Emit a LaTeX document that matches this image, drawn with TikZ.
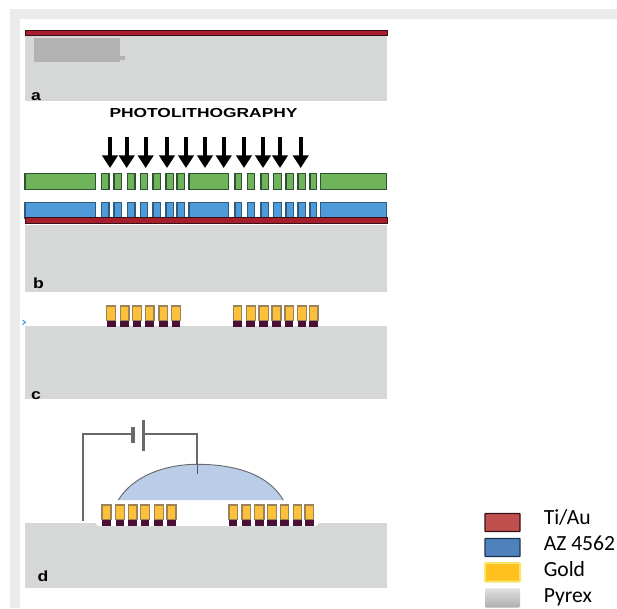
\documentclass[tikz,border=0pt]{standalone}
\usepackage{fontspec}
\setmainfont{Liberation Sans}
\newfontfamily\legendfont{Carlito}
\usetikzlibrary{arrows.meta}
\definecolor{frame}{HTML}{EBEBEB}
\definecolor{pyrex}{HTML}{D5D8D7}
\definecolor{tiau}{HTML}{A61E2C}
\definecolor{tiauedge}{HTML}{3A1018}
\definecolor{resist}{HTML}{4F9BD9}
\definecolor{resistedge}{HTML}{2E5C80}
\definecolor{mask}{HTML}{6FB35A}
\definecolor{maskedge}{HTML}{2F5232}
\definecolor{gold}{HTML}{FDC03A}
\definecolor{goldedge}{HTML}{9A8358}
\definecolor{seed}{HTML}{4A1036}
\definecolor{drop}{HTML}{B9CDE9}
\definecolor{wire}{HTML}{666A6A}
\definecolor{keyred}{HTML}{C0504D}
\definecolor{keyblue}{HTML}{4F81BD}
\definecolor{keygold}{HTML}{FFC020}
\definecolor{keygoldedge}{HTML}{F5E66A}
\tikzset{
  slab/.style={fill=pyrex, draw=none},
  metal/.style={fill=tiau, draw=tiauedge, line width=0.5pt},
  panellabel/.style={font=\bfseries\fontsize{11}{11}\selectfont, xscale=1.2, transform shape},
  legendtext/.style={font=\legendfont\fontsize{16.2}{16.2}\selectfont, right, inner sep=0pt},
  swatch/.style={line width=1pt, rounded corners=0.5pt},
  uvarrow/.style={line width=3.2pt, -{Triangle[width=11.5pt, length=9.5pt]}},
  wireline/.style={draw=wire, line width=1.3pt},
}
\newcommand{\goldpads}[2]{%
  \foreach \xa/\xb in {#1} {
    \fill[seed] (\xa, #2+14.3) rectangle (\xb, #2+20.5);
    \draw[fill=gold, draw=goldedge, line width=0.8pt] (\xa, #2) rectangle (\xb, #2+14.3);
  }
}
\begin{document}
\begin{tikzpicture}[x=0.75pt, y=-0.75pt]
  \useasboundingbox (0, 0) rectangle (617, 608);

  % Page edge
  \fill[frame] (10, 9) rectangle (617, 19);
  \fill[frame] (10, 9) rectangle (20, 608);

  % Panel a
  \fill[slab] (25, 36) rectangle (387, 101);
  \fill[black!30] (34, 38) rectangle (120, 62);
  \fill[black!30] (120, 56) rectangle (125, 60);
  \draw[metal] (25, 30) rectangle (387, 35.5);
  \node[panellabel] (labela) at (36, 97) {a};
  \node[font=\bfseries\fontsize{9.8}{10}\selectfont, xscale=1.33, transform shape] (title) at (203.5, 113) {PHOTOLITHOGRAPHY};

  % Panel b
  \foreach \x in {110, 126.7, 145.7, 167, 186, 205, 223.7, 244, 263, 280, 300.7} {
    \draw[uvarrow] (\x, 137) -- (\x, 168);
  }
  \foreach \xa/\xb in {25/95.7, 189/228.3, 320.7/386.7,
      101.7/109, 114/121.3, 127.7/135, 140.3/147.7, 153/160.3, 166/173.3, 177/184.3,
      235/241.7, 247.7/254.3, 261/268.3, 273.3/281.3, 286/293.3, 298/305.3, 310/316.7} {
    \draw[fill=mask, draw=maskedge, line width=0.8pt] (\xa, 173.5) rectangle (\xb, 189.3);
    \draw[fill=resist, draw=resistedge, line width=0.8pt] (\xa, 202.5) rectangle (\xb, 218);
  }
  \draw[metal] (25, 217.5) rectangle (387, 223);
  \fill[slab] (25, 225) rectangle (387, 291.7);
  \node[panellabel] (labelb) at (38.5, 283) {b};

  % Panel c
  \fill[slab] (25, 326) rectangle (387, 399);
  \goldpads{106.7/115.7, 120.3/129, 132.7/141.3, 145.3/154, 159/167.7, 171.7/180.3,
    233.3/241.7, 246.3/255.3, 259/268.3, 272/281, 285/293.3, 297.7/306.3, 309.3/318}{306}
  \draw[resist, line width=0.8pt] (22.5, 320) -- (25.5, 322.3) -- (22.5, 324.6);
  \node[panellabel] (labelc) at (36, 396) {c};

  % Panel d
  \fill[slab] (25, 523.3) rectangle (387, 588.3);
  \fill[white, rounded corners=2pt] (96, 522) rectangle (318, 526);
  \goldpads{102/111, 115.7/124.3, 128.3/137, 140.7/149.3, 154.3/163.3, 167/176,
    229/237.3, 242/250.7, 254.7/264, 267.3/276.7, 280.3/288.7, 293.3/301.7, 305/313.7}{505}
  \node[panellabel] (labeld) at (43, 576) {d};

  % Droplet
  \fill[drop] (118.3, 500) .. controls (133, 476) and (165, 464.3) .. (197, 464.3)
    .. controls (235, 464.3) and (268, 474) .. (283.3, 500) -- cycle;
  \draw[wire, line width=0.7pt] (118.3, 500) .. controls (133, 476) and (165, 464.3) .. (197, 464.3)
    .. controls (235, 464.3) and (268, 474) .. (283.3, 500);

  % Battery and wires
  \coordinate (anode) at (83.3, 521);
  \coordinate (cornera) at (83.3, 434.3);
  \coordinate (cornerb) at (197.3, 434.3);
  \coordinate (tip) at (197.3, 474);
  \draw[wireline] (anode) -- (cornera) -- (133, 434.3);
  \fill[wire] (131, 426.7) rectangle (135.3, 443.3);
  \fill[wire] (142.2, 420) rectangle (144.6, 450.7);
  \draw[wireline] (144, 434.3) -- (cornerb) -- (197.3, 463.5);
  \draw[wire!80!black, line width=1pt] (197.3, 465) -- (tip);

  % Legend
  \draw[swatch, fill=keyred, draw=tiauedge] (485, 513.5) rectangle (520, 531.5);
  \draw[swatch, fill=keyblue, draw=resistedge!60!black] (485, 538.5) rectangle (520, 556.5);
  \draw[swatch, fill=keygold, draw=keygoldedge, line width=1.5pt] (485, 563) rectangle (520, 581.5);
  \shade[top color=black!12, bottom color=black!32, rounded corners=1pt] (485, 588.3) rectangle (520, 607.7);
  \node[legendtext] (tiaulabel) at (543.5, 517.5) {Ti/Au};
  \node[legendtext] (resistlabel) at (543.5, 543.5) {AZ 4562};
  \node[legendtext] (goldlabel) at (543.5, 569.5) {Gold};
  \node[legendtext] (pyrexlabel) at (543.5, 597) {Pyrex};
\end{tikzpicture}
\end{document}
